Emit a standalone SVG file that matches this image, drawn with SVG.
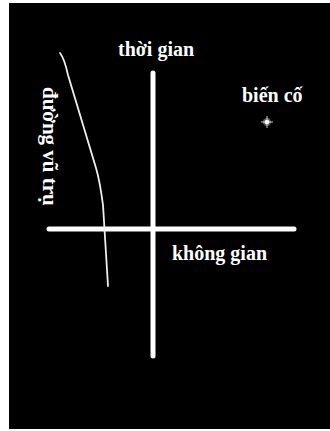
<svg xmlns="http://www.w3.org/2000/svg" width="330" height="431" viewBox="0 0 330 431">
<style>
.lbl{font-family:"Liberation Serif","Times New Roman",serif;font-weight:bold;font-size:20px;fill:#fff}
.axis{stroke:#fff;stroke-width:5;stroke-linecap:round;fill:none}
</style>
<rect x="0" y="0" width="330" height="431" fill="#fff"/>
<rect x="9" y="3" width="321" height="426" fill="#000"/>
<g id="connectors">
<line class="axis" x1="153" y1="73" x2="153" y2="356"/>
<line class="axis" x1="49" y1="229" x2="294" y2="229"/>
</g>
<g id="worldline">
<path d="M60,53 C64,58 66,66 68,75 L96,168 C99,178 101,190 103,205 L108,286" stroke="#eee" stroke-width="1.8" fill="none" stroke-linecap="round"/>
<text class="lbl" style="font-size:21px" transform="translate(43,87) rotate(90)">đường vũ trụ</text>
</g>
<g id="time"><text class="lbl" x="118" y="56">thời gian</text></g>
<g id="space"><text class="lbl" x="172" y="260">không gian</text></g>
<g id="event">
<text class="lbl" x="242" y="102">biến cố</text>
<circle cx="267" cy="122" r="4" fill="#fff" opacity="0.35"/>
<circle cx="267" cy="122" r="2.3" fill="#fff"/>
<line x1="267" y1="116" x2="267" y2="128" stroke="#fff" stroke-width="0.8"/>
<line x1="261" y1="122" x2="273" y2="122" stroke="#fff" stroke-width="0.8"/>
</g>
</svg>
